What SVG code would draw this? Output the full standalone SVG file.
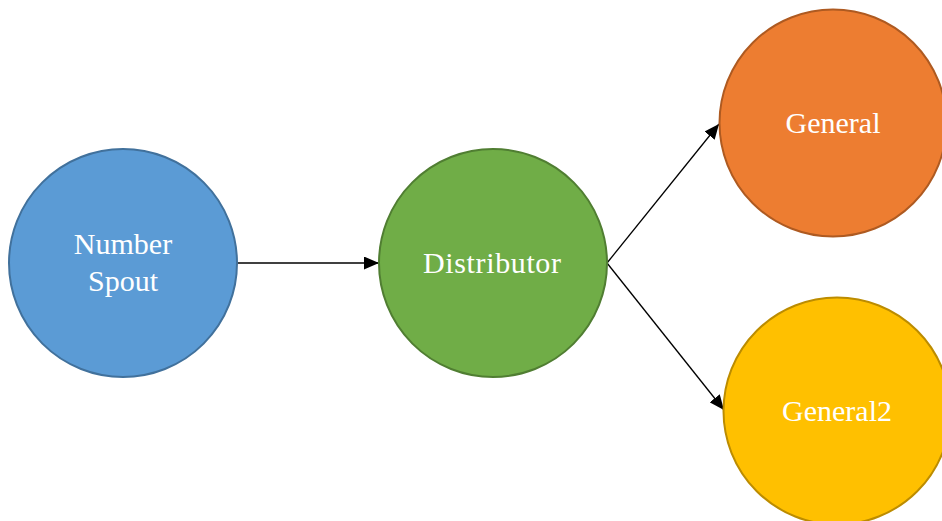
<svg xmlns="http://www.w3.org/2000/svg" width="942" height="521" viewBox="0 0 942 521">
<style>
.lbl{font-family:"Liberation Serif","Times New Roman",serif;font-size:30px;fill:#ffffff;text-anchor:middle}
.edge{stroke:#000;stroke-width:1.3;fill:none;marker-end:url(#arr)}
circle{stroke-width:2}
</style>
<defs>
<marker id="arr" markerWidth="15" markerHeight="13" refX="15" refY="6.5" orient="auto" markerUnits="userSpaceOnUse">
<path d="M0,0 L15,6.5 L0,13 Z" fill="#000"/>
</marker>
</defs>
<rect width="942" height="521" fill="#fff"/>
<g id="connectors">
<line class="edge" x1="237" y1="263" x2="379" y2="263"/>
<line class="edge" x1="607" y1="263" x2="719" y2="124"/>
<line class="edge" x1="607" y1="263" x2="724" y2="410"/>
</g>
<g id="number-spout">
<circle cx="123" cy="263" r="114" fill="#5B9BD5" stroke="#41719C"/>
<text class="lbl" x="123" y="254">Number</text>
<text class="lbl" x="123" y="291">Spout</text>
</g>
<g id="distributor">
<circle cx="493" cy="263" r="114" fill="#70AD47" stroke="#507E32"/>
<text class="lbl" x="492" y="273" textLength="138" lengthAdjust="spacing">Distributor</text>
</g>
<g id="general">
<circle cx="833" cy="123" r="113.5" fill="#ED7D31" stroke="#AE5A21"/>
<text class="lbl" x="833" y="133">General</text>
</g>
<g id="general2">
<circle cx="837" cy="411" r="113.5" fill="#FFC000" stroke="#BC8C00"/>
<text class="lbl" x="837" y="421">General2</text>
</g>
</svg>
